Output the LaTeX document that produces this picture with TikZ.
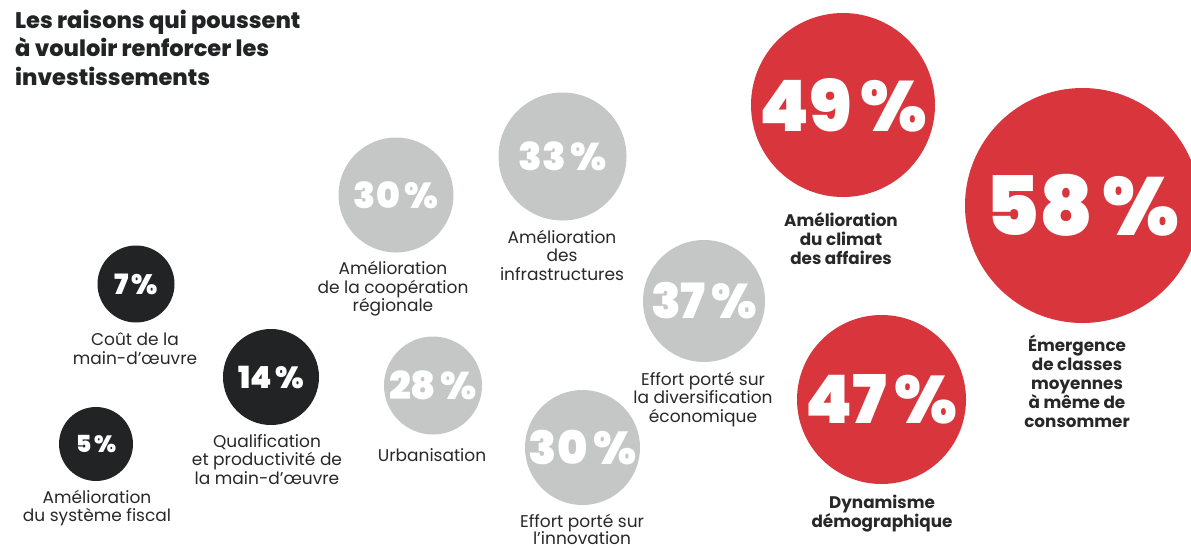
\documentclass[tikz,border=0pt]{standalone}
\usepackage{fontspec}
\setmainfont{Poppins}
\IfFontExistsTF{Poppins Black}{\newfontfamily\pblack{Poppins Black}}{\newfontfamily\pblack{Poppins}[UprightFont=* Bold]}
\IfFontExistsTF{Poppins ExtraBold}{\newfontfamily\pxbold{Poppins ExtraBold}}{\newfontfamily\pxbold{Poppins}[UprightFont=* Bold]}
\definecolor{cred}{RGB}{216,54,60}
\definecolor{cgrey}{RGB}{197,199,198}
\definecolor{cdark}{RGB}{34,35,37}
\definecolor{ctext}{RGB}{40,40,42}
\tikzset{
  bubble/.style={circle,inner sep=0pt,minimum size=#1,text=white,font=\pblack},
  redb/.style={bubble=#1,fill=cred},
  greyb/.style={bubble=#1,fill=cgrey},
  darkb/.style={bubble=#1,fill=cdark},
  lab/.style={align=center,inner sep=0pt,text=ctext,font=\fontsize{17}{18.5}\selectfont},
  blab/.style={align=center,inner sep=0pt,text=ctext,font=\fontsize{16.8}{19}\selectfont\bfseries},
}
\newcommand{\pct}[2]{\fontsize{#1}{#1}\selectfont #2\kern0.12em\%}
\begin{document}
\begin{tikzpicture}[x=1pt,y=-1pt]
\useasboundingbox (0,0) rectangle (1191,547);
\clip (0,0) rectangle (1191,547);
\fill[white] (0,0) rectangle (1191,547);
% title
\node[anchor=west,align=left,inner sep=0pt,text=cdark,font=\fontsize{22.5}{28.5}\selectfont\pxbold] (title) at (15,47.5)
  {Les raisons qui poussent\\à vouloir renforcer les\\investissements};
% dark bubbles
\node[darkb=77pt] (b7) at (136,284) {\pct{28}{7}};
\node[lab] (l7) at (135,348.5) {Coût de la\\main-d’œuvre};
\node[darkb=96pt] (b14) at (271,377) {\pct{30.5}{14}};
\node[lab] (l14) at (267,459.5) {Qualification\\et productivité de\\la main-d’œuvre};
\node[darkb=74pt] (b5) at (96,444) {\pct{23.5}{5}};
\node[lab] (l5) at (97,508) {Amélioration\\du système fiscal};
% grey bubbles
\node[greyb=115pt] (b30a) at (396,195) {\pct{36}{30}};
\node[lab] (l30a) at (393,289) {Amélioration\\de la coopération\\régionale};
\node[greyb=128pt] (b33) at (562.5,156.5) {\pct{38.5}{33}};
\node[lab] (l33) at (562,255) {Amélioration\\des\\infrastructures};
\node[greyb=98pt] (b28) at (433,385.5) {\pct{38.5}{28}};
\node[lab] (l28) at (432,455) {Urbanisation};
\node[greyb=122pt] (b37) at (704,301) {\pct{48.5}{37}};
\node[lab] (l37) at (703,399.5) {Effort porté sur\\la diversification\\économique};
\node[greyb=115pt] (b30b) at (582.5,447.5) {\pct{46}{30}};
\node[lab,font=\fontsize{17}{17.5}\selectfont] (l30b) at (582,529.5) {Effort porté sur\\l’innovation};
% red bubbles
\node[redb=184pt] (b49) at (843,105) {\pct{71}{49}};
\node[blab] (l49) at (841,238.5) {Amélioration\\du climat\\des affaires};
\node[redb=235pt] (b58) at (1082.5,205.5) {\pct{82}{58}};
\node[blab] (l58) at (1077,381) {Émergence\\de classes\\moyennes\\à même de\\consommer};
\node[redb=169pt] (b47) at (881.5,399.5) {\pct{67}{47}};
\node[blab] (l47) at (882,513.5) {Dynamisme\\démographique};
\end{tikzpicture}
\end{document}
